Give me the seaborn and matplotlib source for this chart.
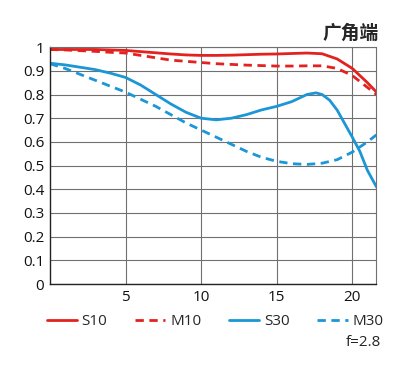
import matplotlib
matplotlib.use('Agg')
import matplotlib.pyplot as plt
import numpy as np
import pandas as pd
import seaborn as sns

# --------------------------------------------------------------------------- #
# MTF curves (image height in mm vs contrast)
x_s10 = [0, 1, 2, 3, 4, 5, 6, 7, 8, 9, 10, 11, 12, 13, 14, 15, 16, 17, 18, 19, 20, 21, 21.6]
s10 = [0.99, 0.99, 0.99, 0.99, 0.988, 0.986, 0.981, 0.976, 0.971, 0.967, 0.965, 0.965, 0.966,
       0.968, 0.97, 0.971, 0.973, 0.975, 0.972, 0.95, 0.91, 0.85, 0.81]

x_m10 = [0, 1, 2, 3, 4, 5, 6, 7, 8, 9, 10, 11, 12, 13, 14, 15, 16, 17, 18, 19, 20, 21, 21.6]
m10 = [0.99, 0.988, 0.985, 0.982, 0.978, 0.975, 0.965, 0.955, 0.945, 0.94, 0.935, 0.93, 0.927,
       0.924, 0.922, 0.92, 0.92, 0.921, 0.921, 0.91, 0.88, 0.83, 0.80]

x_s30 = [0, 1, 2, 3, 4, 5, 6, 7, 8, 9, 10, 11, 12, 13, 14, 15, 16, 17, 17.6, 18, 18.5, 19, 20,
         20.5, 21, 21.6]
s30 = [0.932, 0.925, 0.915, 0.905, 0.89, 0.872, 0.84, 0.80, 0.76, 0.725, 0.70, 0.693, 0.70,
       0.715, 0.735, 0.75, 0.77, 0.80, 0.807, 0.80, 0.776, 0.734, 0.62, 0.56, 0.48, 0.41]

x_m30 = [0, 1, 2, 3, 4, 5, 6, 7, 8, 9, 10, 11, 12, 13, 14, 15, 16, 17, 18, 19, 20, 21, 21.6]
m30 = [0.93, 0.91, 0.885, 0.86, 0.835, 0.81, 0.78, 0.75, 0.715, 0.68, 0.65, 0.62, 0.59,
       0.56, 0.535, 0.518, 0.508, 0.505, 0.51, 0.525, 0.557, 0.6, 0.63]

series = ['S10', 'M10', 'S30', 'M30']
x_ticks = [5, 10, 15, 20]
y_ticks = [0, 0.1, 0.2, 0.3, 0.4, 0.5, 0.6, 0.7, 0.8, 0.9, 1]
y_labels = ['0', '0.1', '0.2', '0.3', '0.4', '0.5', '0.6', '0.7', '0.8', '0.9', '1']

df = pd.concat([
    pd.DataFrame({'x': x_s10, 'y': s10, 'series': 'S10'}),
    pd.DataFrame({'x': x_m10, 'y': m10, 'series': 'M10'}),
    pd.DataFrame({'x': x_s30, 'y': s30, 'series': 'S30'}),
    pd.DataFrame({'x': x_m30, 'y': m30, 'series': 'M30'}),
])

# --------------------------------------------------------------------------- #
sns.set_style('white')
plt.rcParams['font.family'] = ['Open Sans', 'Noto Sans CJK SC', 'DejaVu Sans']

red = '#e3221f'
blue = '#1b96d6'
palette = {'S10': red, 'M10': red, 'S30': blue, 'M30': blue}
dashes = {'S10': '', 'M10': (3, 2), 'S30': '', 'M30': (3, 2)}

fig = plt.figure(figsize=(4.16, 3.68), dpi=100)
ax = fig.add_axes([0.12, 0.228, 0.785, 0.644])

sns.lineplot(data=df, x='x', y='y', hue='series', style='series', hue_order=series,
             style_order=series, palette=palette, dashes=dashes, linewidth=2.0,
             sort=False, ax=ax, legend=True)

ax.set_xlim(0, 21.6)
ax.set_ylim(0, 1)
ax.set_xticks(x_ticks)
ax.set_xticklabels([str(t) for t in x_ticks])
ax.set_yticks(y_ticks)
ax.set_yticklabels(y_labels)
ax.grid(True, color='#707070', linewidth=0.8)
ax.set_axisbelow(True)
ax.tick_params(length=0, labelsize=11, pad=4, labelcolor='#111111')
ax.set_xlabel('')
ax.set_ylabel('')
for side in ['top', 'right']:
    ax.spines[side].set_color('#707070')
    ax.spines[side].set_linewidth(0.8)
for side in ['left', 'bottom']:
    ax.spines[side].set_color('#222222')
    ax.spines[side].set_linewidth(1.0)

handles, labels = ax.get_legend_handles_labels()
ax.legend(handles, labels, loc='upper center', bbox_to_anchor=(0.505, -0.07), ncol=4,
          frameon=False, fontsize=11, handlelength=2.0, handletextpad=0.3,
          columnspacing=1.8)

fig.text(0.91, 0.91, '广角端', ha='right', va='center', fontsize=13.5, fontweight='bold',
         family=['Noto Sans CJK SC', 'DejaVu Sans'])
fig.text(0.915, 0.07, 'f=2.8', ha='right', va='center', fontsize=11)

fig.savefig('out.png', dpi=100)
